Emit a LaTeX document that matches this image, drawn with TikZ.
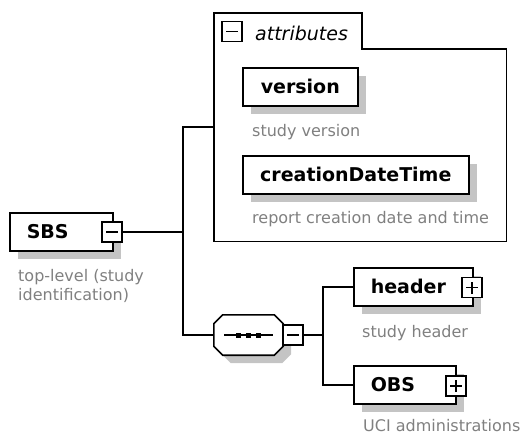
\documentclass[tikz,border=0pt]{standalone}
\usepackage{fontspec}
\setmainfont{DejaVu Sans}
\usetikzlibrary{shadows,calc}
\definecolor{shadowgray}{RGB}{196,196,196}
\definecolor{descgray}{RGB}{128,128,128}
\newcommand\boldf{\fontsize{19}{22}\selectfont\bfseries}
\newcommand\descf{\fontsize{16}{19}\selectfont}
\newcommand\attrf{\fontsize{19}{22}\selectfont\itshape}
\begin{document}
\begin{tikzpicture}[x=1pt,y=-1pt,
  shad/.style={drop shadow={shadow xshift=8pt,shadow yshift=-8pt,fill=shadowgray,opacity=1}},
  elem/.style={draw, line width=1.6pt, fill=white, shad, font=\boldf, minimum height=38pt, inner xsep=17pt, inner ysep=0pt, anchor=north west},
  expbox/.style={draw, line width=1.4pt, fill=white, minimum size=20pt, inner sep=0pt},
  minusbox/.style={expbox, path picture={\draw[line width=1.4pt] ([xshift=4pt]path picture bounding box.west) -- ([xshift=-4pt]path picture bounding box.east);}},
  plusbox/.style={expbox, path picture={\draw[line width=1.4pt] ([xshift=4pt]path picture bounding box.west) -- ([xshift=-4pt]path picture bounding box.east) ([yshift=4pt]path picture bounding box.south) -- ([yshift=-4pt]path picture bounding box.north);}},
  conn/.style={line width=1.4pt},
  desc/.style={font=\descf, text=descgray, anchor=base west, inner sep=0pt}
]
\useasboundingbox (0,0) rectangle (528,436);

% root element
\node[elem, text width=69pt, align=left] (sbs) at (9,212) {SBS};
\node[minusbox] (sbsx) at (112,232) {};
\node[desc] (sbsd1) at (18,281) {top-level (study};
\node[desc] (sbsd2) at (18,300) {identification)};

% attributes group
\node[minimum width=292pt, minimum height=228pt, anchor=north west, inner sep=0pt] (attr) at (214,13) {};
\draw[line width=1.6pt, fill=white] (attr.north west) -- (362,13) -- (362,49) -- (attr.east |- 0,49) -- (attr.south east) -- (attr.south west) -- cycle;
\node[minusbox] (attrx) at (232,31.5) {};
\node[font=\attrf, anchor=base west, inner sep=0pt] (attrl) at (255,41) {attributes};

\node[elem, text width=81pt, align=center] (ver) at (242,67) {version};
\node[desc] (verd) at (252,136) {study version};
\node[elem, text width=192pt, align=center] (cdt) at (242,155) {creationDateTime};
\node[desc] (cdtd) at (252,223) {report creation date and time};

% sequence compositor
\node[minimum width=69pt, minimum height=40pt, inner sep=0pt] (seq) at (248.5,335) {};
\path[draw, line width=1.6pt, fill=white, shad]
  ($(seq.north west)+(9,0)$) -- ($(seq.north east)+(-9,0)$) -- ($(seq.north east)+(0,9)$)
  -- ($(seq.south east)+(0,-9)$) -- ($(seq.south east)+(-9,0)$) -- ($(seq.south west)+(9,0)$)
  -- ($(seq.south west)+(0,-9)$) -- ($(seq.north west)+(0,9)$) -- cycle;
\draw[line width=1.4pt] ($(seq.center)+(-24.5,0)$) -- ($(seq.center)+(24.5,0)$);
\foreach \dx in {-10,0,10} {
  \fill ($(seq.center)+(\dx-2.5,-2.5)$) rectangle +(5,5);
}
\node[minusbox] (seqx) at (293,335) {};

% children
\node[elem, text width=85pt, align=left] (hdr) at (353,267) {header};
\node[plusbox] (hdrx) at (472,287.5) {};
\node[desc] (hdrd) at (362,337) {study header};
\node[elem, text width=68pt, align=left] (obs) at (353,365) {OBS};
\node[plusbox] (obsx) at (456,386) {};
\node[desc] (obsd) at (363,431) {UCI administrations};

% connectors
\coordinate (j1) at (183,232);
\coordinate (j2) at (323,335);
\draw[conn] (sbsx.east) -- (j1);
\draw[conn] (attr.west) -| (j1);
\draw[conn] (seq.west) -| (j1);
\draw[conn] (seqx.east) -- (j2);
\draw[conn] (hdr.west) -| (j2);
\draw[conn] (obs.west) -| (j2);
\end{tikzpicture}
\end{document}
